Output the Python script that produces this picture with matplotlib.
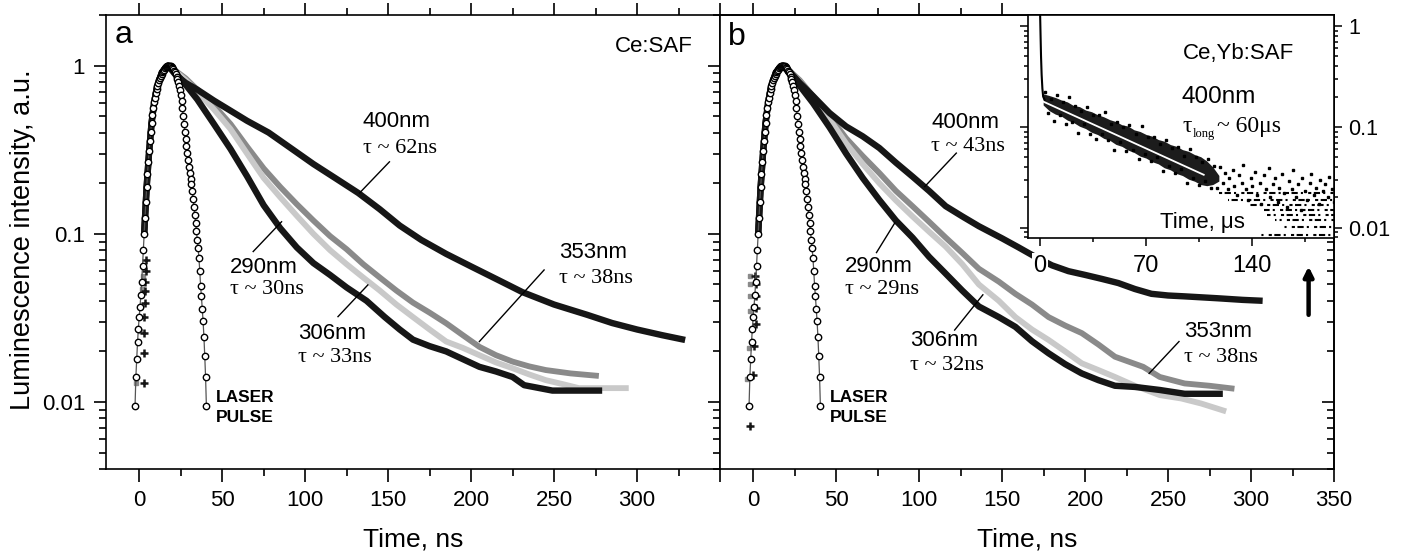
import matplotlib
matplotlib.use("Agg")
import matplotlib.pyplot as plt
from matplotlib.ticker import FixedLocator, LogLocator, NullFormatter, MultipleLocator

plt.rcParams["font.family"] = ["Liberation Sans", "DejaVu Sans"]
SERIF = ["Liberation Serif", "DejaVu Serif"]

# ---------------- data ----------------
# laser pulse, detector counts (same pulse in both panels)
laser_t = [-2.5, -2.0, -1.5, -1.0, -0.5, 0.0, 0.5, 1.0, 1.5, 2.0, 2.5, 3.0, 3.5, 4.0,
           4.5, 5.0, 5.5, 6.0, 6.5, 7.0, 7.5, 8.0, 8.5, 9.0, 9.5, 10.0, 10.5, 11.0,
           11.5, 12.0, 12.5, 13.0, 13.5, 14.0, 14.5, 15.0, 15.5, 16.0, 16.5, 17.0,
           17.5, 18.0, 18.5, 19.0, 19.5, 20.0, 20.5, 21.0, 21.5, 22.0, 22.5, 23.0,
           23.5, 24.0, 24.5, 25.0, 25.5, 26.0, 26.5, 27.0, 27.5, 28.0, 28.5, 29.0,
           29.5, 30.0, 30.5, 31.0, 31.5, 32.0, 32.5, 33.0, 33.5, 34.0, 34.5, 35.0,
           35.5, 36.0, 36.5, 37.0, 37.5, 38.0, 38.5, 39.0, 39.5, 40.0, 40.5]
laser_counts = [1.0, 1.5, 1.9, 2.4, 2.9, 3.4, 3.9, 4.6, 5.5, 6.8, 8.5, 10.6, 13.2, 16.5,
                20.0, 24.0, 28.5, 33.0, 38.0, 43.0, 48.5, 54.0, 59.0, 64.0, 68.5, 73.0,
                77.0, 80.5, 84.0, 87.0, 90.0, 92.5, 95.0, 97.0, 99.0, 100.5, 102.0,
                103.5, 104.5, 105.5, 106.0,
                106.0, 105.5, 105.0, 104.0, 102.5, 101.0, 99.0, 96.5, 94.0, 91.0, 88.0,
                84.5, 80.5, 76.0, 71.0, 65.5, 59.5, 53.0, 47.5, 43.0, 39.0, 35.5, 32.0,
                29.0, 26.5, 24.5, 22.5, 21.0, 19.0, 17.0, 15.3, 13.7, 12.3, 11.0, 9.8,
                8.7, 7.6, 6.4, 5.2, 4.5, 3.8, 3.2, 2.6, 2.0, 1.5, 1.0]
laser_y = [c / max(laser_counts) for c in laser_counts]

# rising edge of the luminescence (hidden behind the pulse)
rise_t = [3.0, 4.5, 6.0, 7.5, 9.0, 10.5, 12.0, 13.5, 15.0, 16.5]
rise_y = [0.10, 0.19, 0.31, 0.46, 0.60, 0.73, 0.82, 0.90, 0.95, 0.99]

# panel a  (Ce:SAF)
a400_t = [17.4, 22, 28, 35, 45, 55, 65, 78, 92, 105, 118, 132, 145, 157, 170, 185,
          200, 215, 231, 250, 270, 285, 300, 315, 329]
a400_y = [1.0, 0.88, 0.79, 0.72, 0.62, 0.54, 0.47, 0.40, 0.32, 0.26, 0.215, 0.175,
          0.14, 0.112, 0.092, 0.076, 0.064, 0.054, 0.045, 0.038, 0.033, 0.0295,
          0.027, 0.025, 0.0234]
a353_t = [17.4, 22, 28, 35, 45, 55, 65, 75, 85, 95, 105, 115, 125, 135, 145, 155, 165,
          175, 185, 195, 205, 215, 225, 235, 245, 260, 277]
a353_y = [1.0, 0.93, 0.84, 0.72, 0.58, 0.45, 0.33, 0.245, 0.19, 0.15, 0.12, 0.097,
          0.081, 0.066, 0.055, 0.046, 0.039, 0.034, 0.0294, 0.025, 0.0213, 0.019,
          0.0174, 0.0163, 0.0155, 0.0148, 0.0143]
a306_t = [17.4, 22, 28, 35, 45, 55, 65, 75, 85, 95, 105, 115, 125, 135, 145, 155, 165,
          175, 185, 195, 205, 215, 225, 235, 245, 255, 265, 295]
a306_y = [1.0, 0.92, 0.82, 0.70, 0.55, 0.42, 0.30, 0.215, 0.165, 0.128, 0.100, 0.080,
          0.066, 0.055, 0.046, 0.038, 0.032, 0.027, 0.0229, 0.021, 0.019, 0.0172,
          0.0159, 0.0146, 0.0135, 0.0128, 0.0121, 0.0121]
a290_t = [17.4, 22, 28, 35, 45, 55, 65, 75, 85, 95, 105, 115, 125, 137, 148, 157, 165,
          175, 185, 195, 205, 215, 225, 232, 249, 279]
a290_y = [1.0, 0.90, 0.77, 0.63, 0.45, 0.32, 0.22, 0.148, 0.108, 0.083, 0.067, 0.057,
          0.048, 0.040, 0.032, 0.027, 0.0235, 0.0215, 0.020, 0.018, 0.0162, 0.0152,
          0.0141, 0.0126, 0.0117, 0.0117]
a_plus_t = [2.6, 2.8, 3.0, 3.2, 3.4, 3.6, 3.8, 4.0, 4.3]
a_plus_y = [0.0129, 0.0195, 0.0257, 0.032, 0.039, 0.046, 0.052, 0.060, 0.070]
a_sq_t = [-2.2, 0.3, 1.0, 1.5, 2.0]
a_sq_y = [0.0129, 0.0265, 0.037, 0.047, 0.056]

# panel b  (Ce,Yb:SAF)
b400_t = [18, 22, 28, 36, 46, 56, 66, 76, 86, 96, 106, 116, 126, 136, 150, 160, 170,
          180, 190, 200, 210, 220, 230, 240, 250, 260, 280, 295, 307]
b400_y = [1.0, 0.92, 0.79, 0.66, 0.523, 0.435, 0.38, 0.324, 0.265, 0.219, 0.18, 0.146,
          0.127, 0.111, 0.094, 0.083, 0.073, 0.065, 0.060, 0.057, 0.054, 0.051, 0.047,
          0.044, 0.043, 0.0425, 0.0414, 0.0405, 0.040]
b353_t = [18, 22, 28, 36, 46, 56, 66, 76, 86, 96, 106, 116, 126, 136, 148, 158, 168,
          178, 188, 198, 208, 218, 235, 245, 260, 275, 290]
b353_y = [1.0, 0.93, 0.82, 0.66, 0.50, 0.37, 0.29, 0.23, 0.18, 0.146, 0.118, 0.095,
          0.077, 0.062, 0.052, 0.044, 0.038, 0.032, 0.0285, 0.0257, 0.022, 0.0186,
          0.0162, 0.0141, 0.0129, 0.0125, 0.012]
b306_t = [18, 22, 28, 36, 46, 56, 66, 76, 86, 96, 106, 116, 126, 136, 148, 158, 168,
          178, 188, 198, 208, 218, 230, 245, 258, 270, 285]
b306_y = [1.0, 0.92, 0.80, 0.64, 0.48, 0.345, 0.26, 0.20, 0.158, 0.127, 0.103, 0.084,
          0.066, 0.05, 0.04, 0.032, 0.027, 0.0234, 0.020, 0.017, 0.0155, 0.0141,
          0.0125, 0.011, 0.0105, 0.0098, 0.0088]
b290_t = [18, 22, 28, 36, 46, 56, 66, 76, 86, 96, 106, 116, 126, 136, 148, 158, 168,
          178, 188, 198, 208, 218, 230, 245, 260, 283]
b290_y = [1.0, 0.90, 0.76, 0.60, 0.43, 0.30, 0.215, 0.159, 0.12, 0.095, 0.073, 0.058,
          0.046, 0.037, 0.032, 0.028, 0.023, 0.0195, 0.0168, 0.0148, 0.0135, 0.0125,
          0.0123, 0.0118, 0.0112, 0.0112]
b_plus_t = [-1.8, 0.0, 0.6, 1.4, 1.6, 1.6, 1.6, 1.2]
b_plus_y = [0.0072, 0.0144, 0.0215, 0.029, 0.036, 0.043, 0.050, 0.056]
b_sq_t = [-3.8, -2.8, -1.8, -1.8, -1.8, -2.0]
b_sq_y = [0.0138, 0.021, 0.035, 0.043, 0.050, 0.056]

# inset: 400 nm, microsecond scale
spike_t = [0, 0.3, 0.6, 1.0, 1.5, 2.0, 3.0]
spike_y = [1.3, 0.8, 0.5, 0.33, 0.24, 0.2, 0.185]
band_t = [2, 6, 10, 14, 18, 22, 26, 30, 34, 38, 42, 46, 50, 54, 58, 62, 66, 70, 74,
          78, 82, 86, 90, 94, 98, 102, 106, 110, 114, 118]
band_hi = [0.213, 0.205, 0.196, 0.185, 0.177, 0.163, 0.159, 0.147, 0.1415, 0.132,
           0.126, 0.118, 0.113, 0.105, 0.102, 0.0936, 0.090, 0.0841, 0.0809, 0.0749,
           0.0721, 0.0668, 0.0642, 0.0595, 0.0572, 0.0531, 0.0506, 0.0459, 0.040,
           0.033]
band_lo = [0.165, 0.145, 0.134, 0.128, 0.1167, 0.1107, 0.1016, 0.0963, 0.0884, 0.0839,
           0.077, 0.0736, 0.0671, 0.0641, 0.0589, 0.0558, 0.0513, 0.049, 0.0451, 0.043,
           0.0393, 0.0375, 0.0345, 0.0329, 0.0303, 0.0289, 0.0268, 0.0261, 0.0268,
           0.029]
dots_t = [3, 5, 7, 9, 11, 13, 15, 17, 19, 21, 23, 25, 27, 29, 31, 33, 35, 37, 39, 41,
          43, 45, 47, 49, 51, 53, 55, 57, 59, 61, 63, 65, 67, 69, 71, 73, 75, 77, 79,
          81, 83, 85, 87, 89, 91, 93, 95, 97, 99, 101, 103, 105, 107, 109, 111, 113,
          115, 117, 119,
          121, 122, 124, 125, 127, 128, 130, 131, 133, 134, 136, 137, 139, 140, 142,
          143, 145, 146, 148, 149, 151, 152, 154, 155, 157, 158, 160, 161, 163, 164,
          166, 167, 169, 170, 172, 173, 175, 176, 178, 179, 181, 182, 184, 185, 187,
          188, 190, 191, 193, 194]
dots_y = [0.224, 0.136, 0.189, 0.115, 0.209, 0.132, 0.176, 0.107, 0.196, 0.112, 0.161,
          0.087, 0.143, 0.106, 0.158, 0.086, 0.132, 0.0767, 0.132, 0.0841, 0.141,
          0.0744, 0.106, 0.0585, 0.112, 0.0708, 0.100, 0.0572, 0.105, 0.059, 0.0857,
          0.0478, 0.101, 0.0541, 0.0803, 0.0454, 0.0796, 0.0501, 0.0676, 0.0363,
          0.0747, 0.0408, 0.0618, 0.0345, 0.0632, 0.0383, 0.052, 0.028, 0.0608,
          0.0311, 0.0503, 0.0263, 0.0444, 0.0293, 0.0479, 0.0246, 0.0406, 0.025,
          0.0402,
          0.028, 0.035, 0.024, 0.031, 0.037, 0.026, 0.021, 0.033, 0.028, 0.042, 0.024,
          0.019, 0.031, 0.026, 0.036, 0.021, 0.028, 0.017, 0.033, 0.024, 0.039, 0.020,
          0.027, 0.031, 0.018, 0.025, 0.034, 0.022, 0.016, 0.029, 0.024, 0.037, 0.020,
          0.027, 0.015, 0.031, 0.023, 0.019, 0.028, 0.034, 0.021, 0.025, 0.017, 0.030,
          0.023, 0.027, 0.020, 0.032, 0.024, 0.018]
rows_y = [0.0222, 0.0189, 0.0169, 0.0151, 0.0135, 0.012, 0.0102, 0.0085]
rows_t0 = [118, 124, 138, 148, 150, 155, 160, 146]
rows_t1 = [194, 194, 194, 194, 194, 194, 194, 194]
fit_t = [2.2, 108]
fit_y = [0.178, 0.0335]

# ---------------- figure ----------------
W, H = 1405.0, 551.0
fig = plt.figure(figsize=(W / 100, H / 100), dpi=100)


def rect(l, t, r, b):
    return [l / W, 1 - b / H, (r - l) / W, (b - t) / H]


ax_a = fig.add_axes(rect(106, 15, 720, 469))
ax_b = fig.add_axes(rect(720, 15, 1334, 469))

BLACK = "#161616"
GRAY = "#8a8a8a"
LIGHT = "#c9c9c9"

for ax in (ax_a, ax_b):
    ax.set_yscale("log")
    ax.set_xlim(-20, 350)
    ax.set_ylim(0.004, 2.0)
    ax.yaxis.set_major_locator(FixedLocator([0.01, 0.1, 1]))
    ax.yaxis.set_minor_locator(LogLocator(base=10, subs=range(2, 10), numticks=20))
    ax.yaxis.set_minor_formatter(NullFormatter())
    ax.set_xticks(range(0, 351, 50))
    ax.xaxis.set_minor_locator(MultipleLocator(25))
    for s in ax.spines.values():
        s.set_linewidth(1.2)
    ax.tick_params(which="both", direction="out", width=1.2, labelsize=16, pad=6)
    ax.tick_params(which="major", length=9)
    ax.tick_params(which="minor", length=5)

ax_a.set_xticklabels(["0", "50", "100", "150", "200", "250", "300", ""])
ax_a.set_yticklabels(["0.01", "0.1", "1"])
ax_a.tick_params(axis="x", which="both", top=True)
ax_a.tick_params(axis="y", which="both", right=False)

ax_b.tick_params(axis="y", which="both", labelleft=False, right=False)
ax_b.tick_params(axis="x", which="both", top=False)
top_b = ax_b.secondary_xaxis("top")
top_b.set_xticks([0, 50, 100, 150])
top_b.set_xticks([25, 75, 125], minor=True)
top_b.tick_params(which="both", direction="out", width=1.2, labeltop=False)
top_b.tick_params(which="major", length=9)
top_b.tick_params(which="minor", length=5)
top_b.spines["top"].set_linewidth(1.2)
right_b = ax_b.secondary_yaxis("right")
right_b.set_yticks([0.01, 0.1, 1])
right_b.yaxis.set_minor_locator(LogLocator(base=10, subs=range(2, 10), numticks=20))
right_b.tick_params(which="both", direction="in", width=1.2, labelright=False)
right_b.tick_params(which="major", length=9)
right_b.tick_params(which="minor", length=5)
right_b.spines["right"].set_linewidth(1.2)


def decay(ax, t, y, color, lw, z):
    ax.plot(rise_t + t, rise_y + y, color=color, lw=lw, solid_joinstyle="round",
            solid_capstyle="butt", zorder=z)


for ax, sets in ((ax_a, [(a353_t, a353_y, GRAY), (a306_t, a306_y, LIGHT),
                         (a290_t, a290_y, BLACK), (a400_t, a400_y, BLACK)]),
                 (ax_b, [(b353_t, b353_y, GRAY), (b306_t, b306_y, LIGHT),
                         (b290_t, b290_y, BLACK), (b400_t, b400_y, BLACK)])):
    for i, (t, y, c) in enumerate(sets):
        decay(ax, t, y, c, 4.6 if c == BLACK else 4.2, 3 + i * 0.1)
    ax.plot(laser_t, laser_y, color="#555555", lw=0.9, marker="o", ms=4.6,
            mfc="white", mec="black", mew=1.0, zorder=6)

ax_a.plot(a_sq_t, a_sq_y, "s", ms=3.5, color=GRAY, zorder=4)
ax_a.plot(a_plus_t, a_plus_y, "+", ms=6, mew=1.8, color=BLACK, zorder=4)
ax_b.plot(b_sq_t, b_sq_y, "s", ms=3.5, color=GRAY, zorder=4)
ax_b.plot(b_plus_t, b_plus_y, "+", ms=6, mew=1.8, color=BLACK, zorder=4)


# labels and pointer lines
def label(ax, x, y_nm, y_tau, nm, tau, line_x, line_y):
    ax.text(x, y_nm, nm, fontsize=16, va="center", zorder=8)
    ax.text(x, y_tau, tau, fontsize=16, family=SERIF, va="center", zorder=8)
    ax.plot(line_x, line_y, color="black", lw=1.0, zorder=7)


label(ax_a, 134.6, 0.464, 0.321, "400nm", "τ ~ 62ns", [150.8, 132.8], [0.268, 0.175])
label(ax_a, 54.7, 0.0628, 0.0464, "290nm", "τ ~ 30ns", [68.7, 85.8], [0.0785, 0.118])
label(ax_a, 95.6, 0.0257, 0.0183, "306nm", "τ ~ 33ns", [119.8, 137.8], [0.0322, 0.0497])
label(ax_a, 253, 0.078, 0.054, "353nm", "τ ~ 38ns", [244, 205], [0.061, 0.0229])
label(ax_b, 107.4, 0.461, 0.33, "400nm", "τ ~ 43ns", [122.4, 103.4], [0.302, 0.191])
label(ax_b, 55.3, 0.0636, 0.0464, "290nm", "τ ~ 29ns", [74.3, 85.3], [0.0774, 0.116])
label(ax_b, 94.3, 0.0231, 0.0164, "306nm", "τ ~ 32ns", [121.4, 138.4], [0.0268, 0.0434])
label(ax_b, 259.6, 0.0261, 0.0183, "353nm", "τ ~ 38ns", [256.6, 238.6], [0.0229, 0.0148])

for ax in (ax_a, ax_b):
    ax.text(46.5, 0.0106, "LASER", fontsize=12.5, weight="bold", va="center")
    ax.text(46.5, 0.00814, "PULSE", fontsize=12.5, weight="bold", va="center")

ax_a.text(0.0147, 0.938, "a", transform=ax_a.transAxes, fontsize=23, va="baseline")
ax_b.text(0.013, 0.935, "b", transform=ax_b.transAxes, fontsize=23, va="baseline")
ax_a.text(0.956, 0.919, "Ce:SAF", transform=ax_a.transAxes, fontsize=16,
          ha="right", va="baseline")

ax_b.annotate("", xy=(334.7, 0.064), xytext=(334.7, 0.033),
              arrowprops=dict(arrowstyle="-|>", color="black", lw=3.2,
                              mutation_scale=14, shrinkA=0, shrinkB=0))

fig.text(23 / W, 1 - 240 / H, "Luminescence intensity, a.u.", rotation=90,
         ha="center", va="center", fontsize=19.5)
fig.text(413 / W, 1 - 546 / H, "Time, ns", ha="center", va="baseline", fontsize=19)
fig.text(1027 / W, 1 - 546 / H, "Time, ns", ha="center", va="baseline", fontsize=19)

# ---------------- inset ----------------
ins = fig.add_axes(rect(1028, 15, 1334, 238))
ins.set_yscale("log")
ins.set_xlim(-8, 194)
ins.set_ylim(0.0079, 1.29)
ins.yaxis.set_major_locator(FixedLocator([0.01, 0.1, 1]))
ins.yaxis.set_minor_locator(LogLocator(base=10, subs=range(2, 10), numticks=20))
ins.yaxis.set_minor_formatter(NullFormatter())
ins.set_yticklabels(["0.01", "0.1", "1"])
ins.set_xticks([0, 70, 140])
ins.set_xticks([35, 105, 175], minor=True)
for s in ins.spines.values():
    s.set_linewidth(1.2)
ins.tick_params(axis="y", which="both", left=True, right=True, labelleft=False,
                labelright=True, direction="out", width=1.1, labelsize=15.5, pad=4)
ins.tick_params(axis="x", which="both", top=False, direction="out", width=1.1,
                labelsize=17, pad=6)
ins.tick_params(which="major", length=6)
ins.tick_params(which="minor", length=3)
for lbl in ins.get_xticklabels():
    lbl.set_bbox(dict(facecolor="white", edgecolor="none", pad=1))

ins.plot(spike_t, spike_y, color="black", lw=1.5)
ins.fill_between(band_t, band_lo, band_hi, color="#1c1c1c", lw=0)
ins.plot(dots_t, dots_y, "s", ms=2.0, color="black", lw=0)
for k, (yv, t0, t1) in enumerate(zip(rows_y, rows_t0, rows_t1)):
    ins.plot([t0, t1], [yv, yv], color="black", lw=1.5,
             ls=(k, (1.5, 1.2, 3.0, 1.5, 1.0, 2.5)))
ins.plot(fit_t, fit_y, color="white", lw=1.3)

ins.text(0.506, 0.803, "Ce,Yb:SAF", transform=ins.transAxes, fontsize=16, va="baseline")
ins.text(0.502, 0.605, "400nm", transform=ins.transAxes, fontsize=17.5, va="baseline")
ins.text(0.506, 0.477, "τ", transform=ins.transAxes, fontsize=17, family=SERIF,
         va="baseline")
ins.text(0.539, 0.452, "long", transform=ins.transAxes, fontsize=9, family=SERIF,
         va="baseline")
ins.text(0.618, 0.477, "~ 60μs", transform=ins.transAxes, fontsize=17, family=SERIF,
         va="baseline")
ins.text(0.431, 0.045, "Time, μs", transform=ins.transAxes, fontsize=16, va="baseline")

fig.savefig("out.png", dpi=100)
